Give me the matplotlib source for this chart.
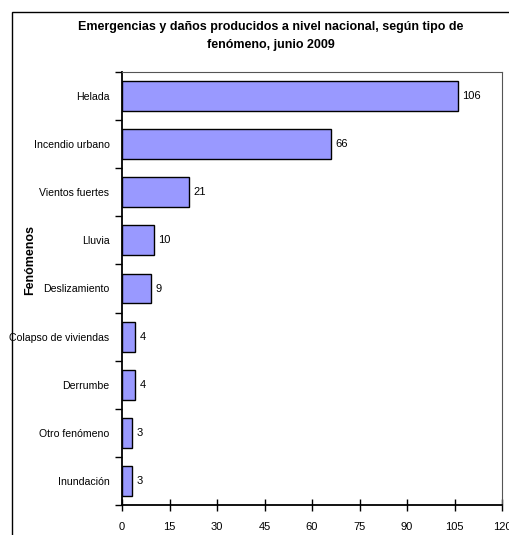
import matplotlib
matplotlib.use("Agg")
import matplotlib.pyplot as plt
from matplotlib.patches import Rectangle
import numpy as np

# datos
fenomenos = ["Helada", "Incendio urbano", "Vientos fuertes", "Lluvia", "Deslizamiento",
             "Colapso de viviendas", "Derrumbe", "Otro fenómeno", "Inundación"]
valores = [106, 66, 21, 10, 9, 4, 4, 3, 3]
xticks = [0, 15, 30, 45, 60, 75, 90, 105, 120]

plt.rcParams['font.family'] = ['Liberation Sans Narrow', 'Liberation Sans', 'DejaVu Sans']

W, H = 510, 535
fig = plt.figure(figsize=(W/100, H/100), dpi=100)

# marco exterior
fig.patches.append(Rectangle((12/W, -0.1), 1.2, 1 - 12/H + 0.1, transform=fig.transFigure,
                             fill=False, edgecolor='black', linewidth=1.0))

ax = fig.add_axes([122/W, 1 - 505/H, (502 - 122)/W, (505 - 72)/H])

n = len(fenomenos)
y = np.arange(n)
ax.barh(y, valores, height=0.62, color='#9999FF', edgecolor='black', linewidth=1.0, zorder=3)
for yi, v in zip(y, valores):
    ax.text(v + 1.5, yi, str(v), va='center', ha='left', fontsize=8)

ax.set_xlim(0, 120)
ax.set_ylim(n - 0.5, -0.5)
ax.set_xticks(xticks)
ax.set_xticklabels([str(t) for t in xticks], fontsize=8)
ax.tick_params(axis='x', direction='inout', length=8, width=1, pad=8)

ax.set_yticks(np.arange(n + 1) - 0.5)
ax.set_yticklabels([])
ax.set_yticks(y, minor=True)
ax.set_yticklabels(fenomenos, minor=True, fontsize=7.6)
ax.tick_params(axis='y', which='major', direction='out', length=5, width=1)
ax.tick_params(axis='y', which='minor', length=0, pad=9)

for s in ['left', 'bottom']:
    ax.spines[s].set_linewidth(1.3)
    ax.spines[s].set_color('black')
for s in ['top', 'right']:
    ax.spines[s].set_linewidth(0.8)
    ax.spines[s].set_color('#555555')

fig.text(271/W, 1 - 27/H, "Emergencias y daños producidos a nivel nacional, según tipo de",
         ha='center', va='center', fontsize=9, fontweight='bold')
fig.text(271/W, 1 - 45/H, "fenómeno, junio 2009",
         ha='center', va='center', fontsize=9, fontweight='bold')
fig.text(30/W, 1 - 260/H, "Fenómenos", rotation=90, ha='center', va='center',
         fontsize=9, fontweight='bold')

fig.savefig("out.png", dpi=100)
